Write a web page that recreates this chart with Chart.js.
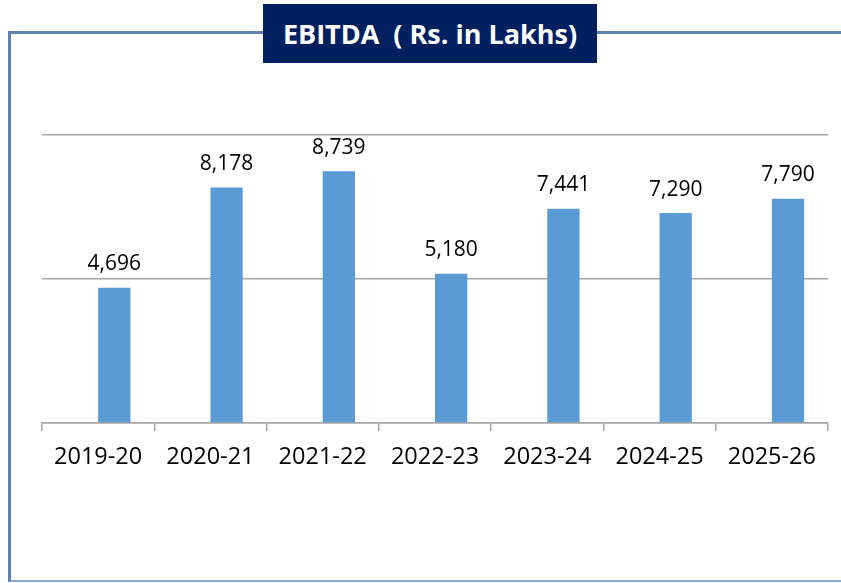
<!DOCTYPE html>
<html>
<head>
<meta charset="utf-8">
<script src="https://cdn.jsdelivr.net/npm/chart.js@4"></script>
<style>
  html, body { margin: 0; padding: 0; background: #fff; overflow: hidden; }
  #wrap { position: relative; width: 841px; height: 583px; }
  #frame {
    position: absolute; left: 8px; top: 31px; width: 850px; height: 546px;
    border-left: 3px solid #5B83AE; border-top: 3px solid #5B83AE; border-bottom: 2px solid #8DAACB;
  }
  #title {
    position: absolute; left: 263px; top: 4px; width: 334px; height: 59px;
    background: #002060; color: #fff; font-family: "Open Sans", sans-serif; font-weight: bold;
    font-size: 27px; line-height: 59px; text-align: center; white-space: pre;
  }
  canvas { position: absolute; left: 0; top: 0; }
</style>
</head>
<body>
<div id="wrap">
  <div id="frame"></div>
  <canvas id="ebitdaChart" width="841" height="583"></canvas>
  <div id="title">EBITDA  ( Rs. in Lakhs)</div>
</div>
<script>
// data
const years = ['2019-20', '2020-21', '2021-22', '2022-23', '2023-24', '2024-25', '2025-26'];
const ebitda = [4696, 8178, 8739, 5180, 7441, 7290, 7790];
const emptySeries = [null, null, null, null, null, null, null]; // blank series like in the excel sheet
const yTicks = [0, 5000, 10000];

// value labels over bars
const barLabels = {
    id: 'barLabels',
    afterDatasetsDraw(chart) {
        const ctx = chart.ctx;
        const meta = chart.getDatasetMeta(1);
        ctx.save();
        ctx.font = '21px "Open Sans"';
        ctx.fillStyle = '#000';
        ctx.textAlign = 'center';
        ctx.textBaseline = 'alphabetic';
        meta.data.forEach((bar, i) => {
            ctx.fillText(ebitda[i].toLocaleString('en-US'), bar.x, bar.y - 17.5);
        });
        ctx.restore();
    }
};

new Chart(document.getElementById('ebitdaChart').getContext('2d'), {
    type: 'bar',
    data: {
        labels: years,
        datasets: [
            { label: '', data: emptySeries, backgroundColor: '#5B9BD5' },
            { label: 'EBITDA', data: ebitda, backgroundColor: '#5B9BD5' }
        ]
    },
    options: {
        responsive: false,
        animation: false,
        categoryPercentage: 0.575,
        barPercentage: 1,
        layout: { padding: { left: 42, right: 13, top: 135, bottom: 0 } },
        plugins: { legend: { display: false }, tooltip: { enabled: false } },
        scales: {
            x: {
                afterFit(s) { s.height = 160; },
                grid: { drawOnChartArea: false, drawTicks: true, tickLength: 8, color: '#A6A6A6', lineWidth: 1.5 },
                border: { color: '#A6A6A6', width: 1.5 },
                ticks: { color: '#000', font: { family: 'Open Sans', size: 23.5 }, padding: 12, maxRotation: 0 }
            },
            y: {
                min: 0, max: 10000,
                afterFit(s) { s.width = 0; },
                afterBuildTicks(s) { s.ticks = yTicks.map(v => ({ value: v })); },
                ticks: { display: false },
                grid: { color: '#A6A6A6', lineWidth: 1.5, drawTicks: false },
                border: { display: false }
            }
        }
    },
    plugins: [barLabels]
});
</script>
</body>
</html>
